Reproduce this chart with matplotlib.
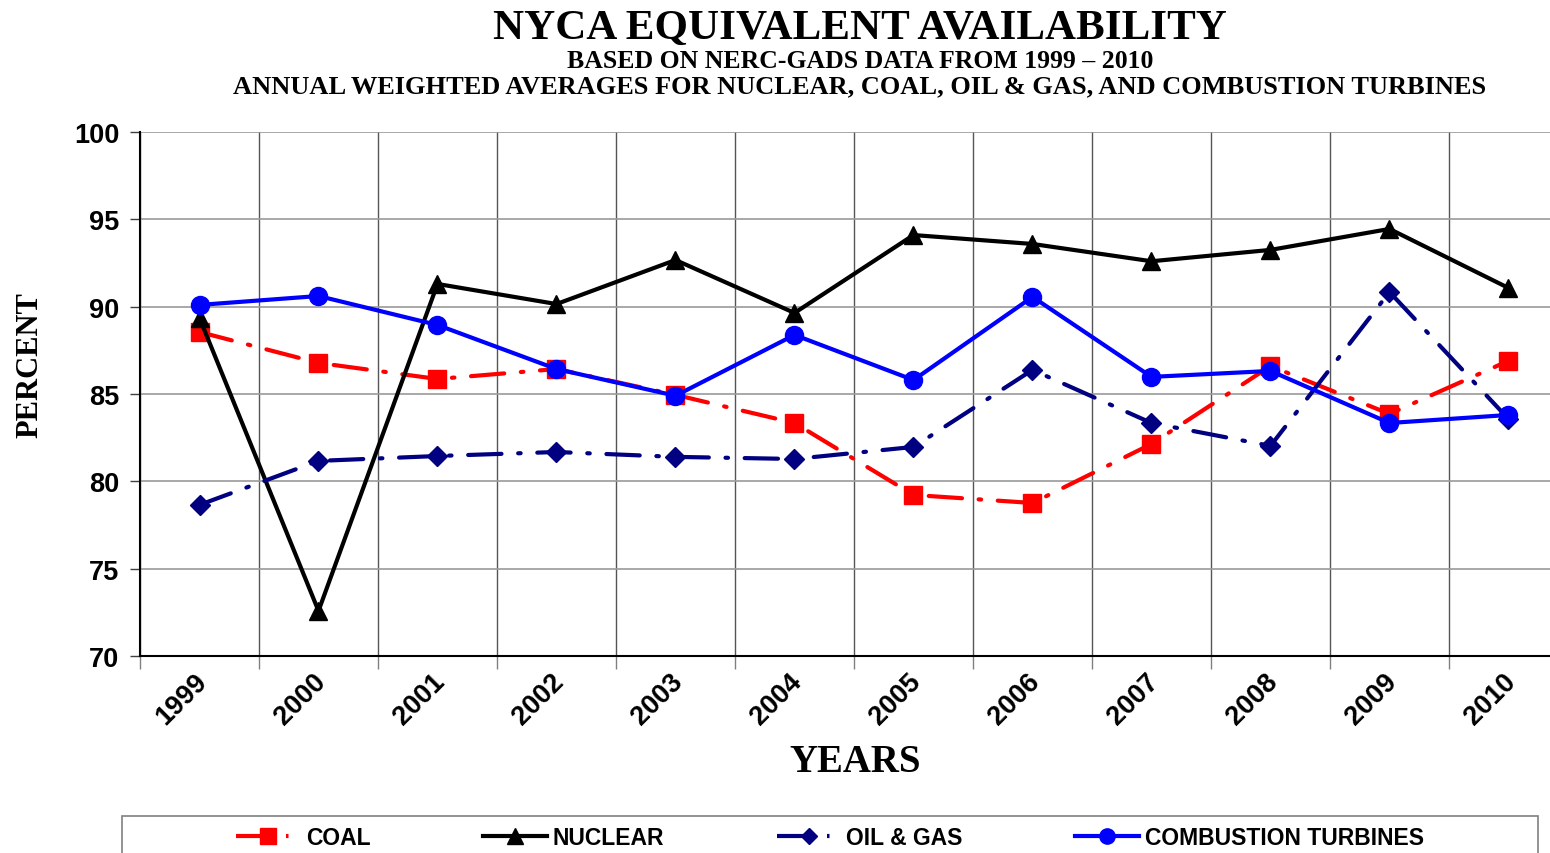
import matplotlib
matplotlib.use("Agg")
import matplotlib.pyplot as plt
from matplotlib.lines import Line2D
from matplotlib.patches import Rectangle
import matplotlib.transforms as mtransforms

years = ["1999", "2000", "2001", "2002", "2003", "2004", "2005", "2006", "2007", "2008", "2009", "2010"]
coal = [88.55, 86.78, 85.86, 86.43, 84.95, 83.34, 79.22, 78.76, 82.14, 86.6, 83.86, 86.9]
nuclear = [89.35, 72.58, 91.3, 90.15, 92.67, 89.64, 94.1, 93.59, 92.6, 93.25, 94.45, 91.07]
oil_gas = [78.65, 81.17, 81.45, 81.68, 81.4, 81.28, 81.97, 86.38, 83.34, 82.03, 90.84, 83.57]
combustion = [90.1, 90.61, 88.95, 86.43, 84.9, 88.38, 85.8, 90.56, 85.98, 86.32, 83.34, 83.8]
yticks = [70, 75, 80, 85, 90, 95, 100]

W, H = 1550, 854
fig = plt.figure(figsize=(W / 100, H / 100), dpi=100)
ax = fig.add_axes([140 / W, (H - 657) / H, (1568 - 140) / W, (657 - 133) / H])

xs = [i + 0.5 for i in range(len(years))]
dashdot = (0, (8, 4, 0.6, 4))

ax.plot(xs, coal, color="red", lw=3, linestyle=dashdot, dash_capstyle="round",
        marker="s", ms=13, mec="red", mfc="red", label="COAL", zorder=3)
ax.plot(xs, nuclear, color="black", lw=3, linestyle="-",
        marker="^", ms=13, mec="black", mfc="black", label="NUCLEAR", zorder=4)
ax.plot(xs, oil_gas, color="#000080", lw=3, linestyle=dashdot, dash_capstyle="round",
        marker="D", ms=10, mec="#000080", mfc="#000080", label="OIL & GAS", zorder=5)
ax.plot(xs, combustion, color="blue", lw=3, linestyle="-",
        marker="o", ms=13, mec="blue", mfc="blue", label="COMBUSTION TURBINES", zorder=6)

ax.set_xlim(0, len(years))
ax.set_ylim(70, 100)
ax.set_yticks(yticks)
ax.set_yticklabels([str(v) for v in yticks], fontsize=19.5, fontweight="bold", family="Liberation Sans")
ax.set_xticks(range(len(years) + 1))
ax.set_xticklabels([])
ax.set_xticks(xs, minor=True)
ax.set_xticklabels(years, minor=True, rotation=45, ha="right", va="top",
                   rotation_mode="anchor", fontsize=19.5, fontweight="bold", family="Liberation Sans")
ax.tick_params(axis="x", which="minor", length=0, pad=9)
ax.tick_params(axis="x", which="major", length=9, width=1, color="#808080", direction="out")
ax.tick_params(axis="y", length=7, width=1, color="#404040", direction="out", pad=8)
off = mtransforms.ScaledTranslation(-6 / 100, 0, fig.dpi_scale_trans)
for lbl in ax.get_xticklabels(minor=True):
    lbl.set_transform(lbl.get_transform() + off)

ax.grid(True, axis="y", color="#9a9a9a", lw=1.2, zorder=0)
ax.grid(True, axis="x", which="major", color="#555555", lw=1.0, zorder=0)
ax.set_axisbelow(True)
for s in ["top", "right"]:
    ax.spines[s].set_visible(False)
ax.spines["left"].set_color("black")
ax.spines["bottom"].set_color("black")
ax.spines["left"].set_linewidth(1.5)
ax.spines["bottom"].set_linewidth(1.5)

fig.text(860 / W, 1 - 29 / H, "NYCA EQUIVALENT AVAILABILITY", ha="center", va="center",
         fontsize=31, fontweight="bold", family="Liberation Serif")
fig.text(860 / W, 1 - 61 / H, "BASED ON NERC-GADS DATA FROM 1999 \u2013 2010", ha="center", va="center",
         fontsize=18.5, fontweight="bold", family="Liberation Serif")
fig.text(860 / W, 1 - 87 / H,
         "ANNUAL WEIGHTED AVERAGES FOR NUCLEAR, COAL, OIL & GAS, AND COMBUSTION TURBINES",
         ha="center", va="center", fontsize=19, fontweight="bold", family="Liberation Serif")
fig.text(30 / W, 1 - 365 / H, "PERCENT", rotation=90, ha="center", va="center",
         fontsize=22, fontweight="bold", family="Liberation Serif")
fig.text(855 / W, 1 - 763 / H, "YEARS", ha="center", va="center",
         fontsize=28, fontweight="bold", family="Liberation Serif")

fig.patches.append(Rectangle((122 / W, -0.05), (1538 - 122) / W, 1 - 817 / H + 0.05,
                             transform=fig.transFigure, facecolor="white",
                             edgecolor="#808080", lw=1.2))

handles = [
    Line2D([], [], color="red", lw=3, linestyle=dashdot, marker="s", ms=11, mfc="red", mec="red"),
    Line2D([], [], color="black", lw=3, marker="^", ms=11, mfc="black", mec="black"),
    Line2D([], [], color="#000080", lw=3, linestyle=dashdot, marker="D", ms=8, mfc="#000080", mec="#000080"),
    Line2D([], [], color="blue", lw=3, marker="o", ms=11, mfc="blue", mec="blue"),
]
labels = ["COAL", "NUCLEAR", "OIL & GAS", "COMBUSTION TURBINES"]
leg = fig.legend(handles, labels, loc="center", ncol=4,
                 bbox_to_anchor=(830 / W, 1 - 839 / H),
                 prop={"family": "Liberation Sans", "weight": "bold", "size": 16.5},
                 frameon=False, handlelength=2.8, handletextpad=0.25,
                 borderpad=0, borderaxespad=0, columnspacing=4.9)

fig.savefig("out.png", dpi=100)
